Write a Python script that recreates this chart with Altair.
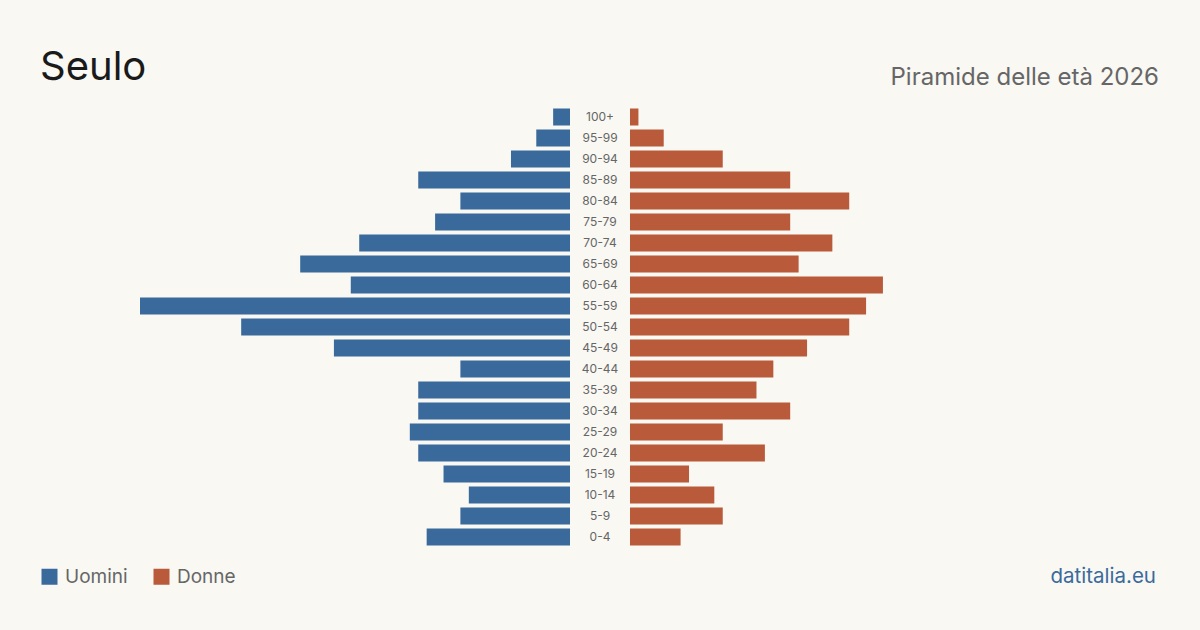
import altair as alt
import pandas as pd

gruppi = ["100+", "95-99", "90-94", "85-89", "80-84", "75-79", "70-74", "65-69",
          "60-64", "55-59", "50-54", "45-49", "40-44", "35-39", "30-34", "25-29",
          "20-24", "15-19", "10-14", "5-9", "0-4"]
uomini = [2, 4, 7, 18, 13, 16, 25, 32, 26, 51, 39, 28, 13, 18, 18, 19, 18, 15, 12, 13, 17]
donne = [1, 4, 11, 19, 26, 19, 24, 20, 30, 28, 26, 21, 17, 15, 19, 11, 16, 7, 10, 11, 6]

BLU = "#3a6a9c"
ARANCIO = "#b95b3b"
FONT = "Inter"

rows = []
for g, u, d in zip(gruppi, uomini, donne):
    rows.append({"gruppo": g, "sesso": "Uomini", "valore": u, "neg": -u})
    rows.append({"gruppo": g, "sesso": "Donne", "valore": d, "neg": -d})
df = pd.DataFrame(rows)
lab = pd.DataFrame({"gruppo": gruppi, "zero": [0] * len(gruppi)})

maxv = max(max(uomini), max(donne))
xscale = alt.Scale(domain=[-maxv, maxv], range=[170, 1030], nice=False, zero=False)
yscale = alt.Scale(domain=gruppi, range=[106.5, 547.5], paddingInner=0.19, paddingOuter=0.095)
color = alt.Color(
    "sesso:N",
    scale=alt.Scale(domain=["Uomini", "Donne"], range=[BLU, ARANCIO]),
    legend=alt.Legend(
        orient="none", legendX=40, legendY=567, direction="horizontal", title=None,
        symbolType="square", symbolSize=256, symbolStrokeWidth=0, symbolOpacity=1,
        labelFontSize=19, labelColor="#666666", labelFont=FONT, labelOffset=6,
        columnPadding=24,
    ),
)

base = alt.Chart(df)
left = base.transform_filter(alt.datum.sesso == "Uomini").mark_bar(xOffset=-30, x2Offset=-30).encode(
    x=alt.X("neg:Q", scale=xscale, axis=None),
    x2=alt.datum(0),
    y=alt.Y("gruppo:N", scale=yscale, axis=None, sort=gruppi),
    color=color,
)
right = base.transform_filter(alt.datum.sesso == "Donne").mark_bar(xOffset=30, x2Offset=30).encode(
    x=alt.X("valore:Q", scale=xscale, axis=None),
    x2=alt.datum(0),
    y=alt.Y("gruppo:N", scale=yscale, axis=None, sort=gruppi),
    color=color,
)
labels = alt.Chart(lab).mark_text(font=FONT, fontSize=12, color="#666666", baseline="middle").encode(
    x=alt.X("zero:Q", scale=xscale, axis=None),
    y=alt.Y("gruppo:N", scale=yscale, axis=None, sort=gruppi),
    text="gruppo:N",
)

def testo(t, x, y, size, col, align="left", weight="normal"):
    return alt.Chart(pd.DataFrame({"t": [t]})).mark_text(
        font=FONT, fontSize=size, color=col, align=align, baseline="alphabetic", fontWeight=weight
    ).encode(text="t:N", x=alt.value(x), y=alt.value(y))

titolo = testo("Seulo", 40, 80, 40, "#1a1a1a")
sotto = testo("Piramide delle età 2026", 1159, 85, 24, "#666666", align="right")
fonte = testo("datitalia.eu", 1156, 583, 20.5, BLU, align="right")

chart = alt.layer(left, right, labels, titolo, sotto, fonte).resolve_scale(x="shared", y="shared").properties(
    width=1200, height=630, background="#f9f8f3", padding=0,
    autosize=alt.AutoSizeParams(type="none"),
).configure_view(stroke=None)

chart.save("out.html", embed_options={"renderer": "svg", "actions": False})
